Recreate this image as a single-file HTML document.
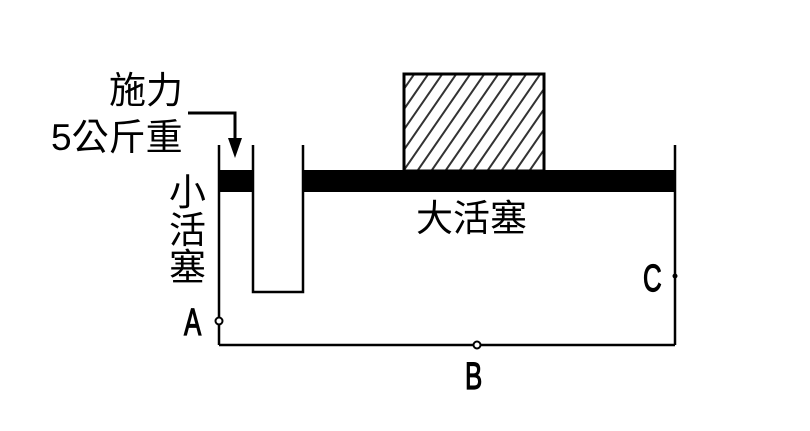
<!DOCTYPE html>
<html><head><meta charset="utf-8"><style>
html,body{margin:0;padding:0;background:#fff;}
svg{display:block}
text{font-family:"Liberation Sans","Noto Sans CJK TC",sans-serif;fill:#000}
</style></head><body>
<svg width="810" height="431" viewBox="0 0 810 431" xmlns="http://www.w3.org/2000/svg">
<defs>
<clipPath id="c"><rect x="404" y="74" width="140" height="96"/></clipPath>
</defs>
<rect width="810" height="431" fill="#fff"/>
<g clip-path="url(#c)" stroke="#333" stroke-width="2">
<line x1="334" y1="170" x2="401" y2="73"/><line x1="348" y1="170" x2="415" y2="73"/>
<line x1="362" y1="170" x2="429" y2="73"/><line x1="376" y1="170" x2="443" y2="73"/>
<line x1="390" y1="170" x2="457" y2="73"/><line x1="404" y1="170" x2="471" y2="73"/>
<line x1="418" y1="170" x2="485" y2="73"/><line x1="432" y1="170" x2="499" y2="73"/>
<line x1="446" y1="170" x2="513" y2="73"/><line x1="460" y1="170" x2="527" y2="73"/>
<line x1="474" y1="170" x2="541" y2="73"/><line x1="488" y1="170" x2="555" y2="73"/>
<line x1="502" y1="170" x2="569" y2="73"/><line x1="516" y1="170" x2="583" y2="73"/>
<line x1="530" y1="170" x2="597" y2="73"/>
</g>
<rect x="404" y="74" width="140" height="97" fill="none" stroke="#000" stroke-width="3"/>
<rect x="219" y="170" width="33" height="22" fill="#000"/>
<rect x="303" y="170" width="373" height="22" fill="#000"/>
<g stroke="#000" stroke-width="2.5" fill="none">
<line x1="219" y1="145" x2="219" y2="345"/>
<polyline points="253,145 253,292 303,292 303,145"/>
<line x1="675" y1="145" x2="675" y2="345"/>
<line x1="219" y1="345" x2="675" y2="345"/>
<polyline points="188,113 235,113 235,140" stroke-width="3"/>
</g>
<polygon points="228,138 242,138 235,158" fill="#000"/>
<circle cx="219" cy="321" r="3.5" fill="#fff" stroke="#000" stroke-width="2"/>
<circle cx="477" cy="345" r="3.5" fill="#fff" stroke="#000" stroke-width="2"/>
<circle cx="675" cy="276" r="2.5" fill="#000"/>
<text x="109" y="103" font-size="37">施力</text>
<text x="51" y="150" font-size="37">5公斤重</text>
<text x="169" y="205" font-size="37">小</text>
<text x="169" y="243" font-size="37">活</text>
<text x="169" y="280" font-size="37">塞</text>
<text x="416" y="231" font-size="37">大活塞</text>
<g stroke="#000" stroke-width="1.2">
<text x="184" y="335" font-size="38" transform="translate(184 0) scale(0.68 1) translate(-184 0)">A</text>
<text x="465" y="389" font-size="38" transform="translate(465 0) scale(0.68 1) translate(-465 0)">B</text>
<text x="643" y="291" font-size="38" transform="translate(643 0) scale(0.68 1) translate(-643 0)">C</text>
</g>
</svg>
</body></html>
